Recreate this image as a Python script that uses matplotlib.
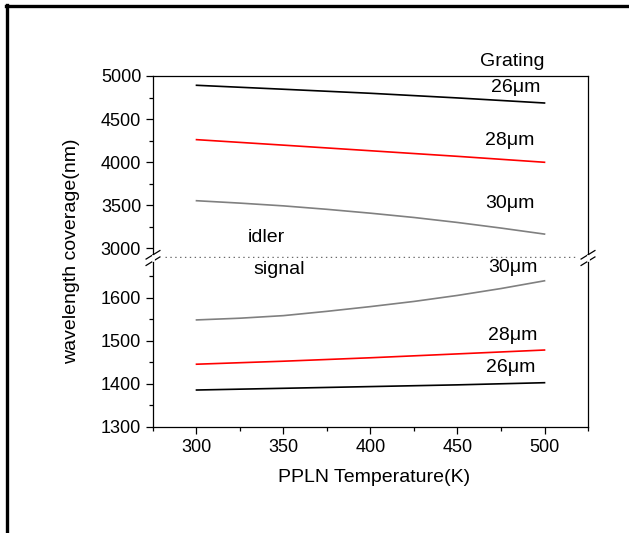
import matplotlib.pyplot as plt
from matplotlib.lines import Line2D
from matplotlib.ticker import MultipleLocator

plt.rcParams['font.family'] = ['Liberation Sans', 'DejaVu Sans']
plt.rcParams['font.size'] = 14

temp = [300, 350, 400, 450, 500]
temp_fine = [300, 325, 350, 375, 400, 425, 450, 475, 500]
# idler branch (upper panel)
idler_26 = [4892, 4846, 4799, 4745, 4686]
idler_28 = [4260, 4196, 4131, 4066, 3997]
idler_30 = [3550, 3522, 3490, 3450, 3405, 3355, 3297, 3232, 3162]
# signal branch (lower panel)
signal_26 = [1386, 1390, 1394, 1398, 1403]
signal_28 = [1446, 1453, 1461, 1470, 1479]
signal_30 = [1549, 1553, 1559, 1569, 1580, 1592, 1606, 1622, 1640]

fig = plt.figure(figsize=(6.29, 5.33), dpi=100)
L, R = 153 / 629, 588 / 629
ybrk = 1 - 258 / 533
ytop = 1 - 76 / 533
ybot = 1 - 427 / 533
ax_up = fig.add_axes([L, ybrk, R - L, ytop - ybrk])
ax_lo = fig.add_axes([L, ybot, R - L, ybrk - ybot])

lw = 1.2
ax_up.plot(temp, idler_26, color='black', lw=lw)
ax_up.plot(temp, idler_28, color='red', lw=lw)
ax_up.plot(temp_fine, idler_30, color='gray', lw=lw)
ax_lo.plot(temp, signal_26, color='black', lw=lw)
ax_lo.plot(temp, signal_28, color='red', lw=lw)
ax_lo.plot(temp_fine, signal_30, color='gray', lw=lw)

ax_up.set_ylim(2884, 5000)
ax_lo.set_ylim(1300, 1693)
for ax in (ax_up, ax_lo):
    ax.set_xlim(275, 525)
    for s in ax.spines.values():
        s.set_linewidth(0.9)
    ax.tick_params(which='major', direction='out', length=5, width=0.9, labelsize=13)
    ax.tick_params(which='minor', direction='out', length=3, width=0.9)
    ax.xaxis.set_major_locator(MultipleLocator(50))
    ax.xaxis.set_minor_locator(MultipleLocator(25))
    ax.tick_params(right=False, top=False, which='both')

ax_up.spines['bottom'].set_visible(False)
ax_lo.spines['top'].set_visible(False)
ax_up.tick_params(axis='x', which='both', bottom=False, labelbottom=False)
ax_up.yaxis.set_major_locator(MultipleLocator(500))
ax_up.yaxis.set_minor_locator(MultipleLocator(250))
ax_up.set_yticks([3000, 3500, 4000, 4500, 5000])
ax_lo.yaxis.set_major_locator(MultipleLocator(100))
ax_lo.yaxis.set_minor_locator(MultipleLocator(50))
ax_lo.set_yticks([1300, 1400, 1500, 1600])

# dotted divider between idler and signal
ax_up.plot([282, 518], [2895, 2895], linestyle=(0, (1, 2.5)), color='dimgray', lw=1)

# break marks on both spines
for xf in (0, 1):
    for dy in (-0.006, 0.006):
        fig.add_artist(Line2D([L + (R - L) * xf - 0.011, L + (R - L) * xf + 0.011],
                              [ybrk + dy - 0.008, ybrk + dy + 0.008],
                              color='black', lw=0.9))
    fig.add_artist(Line2D([L + (R - L) * xf, L + (R - L) * xf],
                          [ybrk - 0.003, ybrk + 0.003], color='white', lw=2))

def pt(x, y):
    return x / 629, 1 - y / 533

fig.text(*pt(512, 61), 'Grating', ha='center', va='center')
fig.text(*pt(516, 88), '26μm', ha='center', va='center')
fig.text(*pt(510, 140), '28μm', ha='center', va='center')
fig.text(*pt(510, 203), '30μm', ha='center', va='center')
fig.text(*pt(513, 268), '30μm', ha='center', va='center')
fig.text(*pt(513, 336), '28μm', ha='center', va='center')
fig.text(*pt(511, 368), '26μm', ha='center', va='center')
fig.text(*pt(266, 238), 'idler', ha='center', va='center')
fig.text(*pt(279, 269), 'signal', ha='center', va='center')

fig.text(*pt(72, 251), 'wavelength coverage(nm)', rotation=90, ha='center', va='center')
fig.text(*pt(374, 478), 'PPLN Temperature(K)', ha='center', va='center')

# partial frame of the cropped original
fig.add_artist(Line2D([6 / 629, 1], [1 - 6 / 533, 1 - 6 / 533], color='black', lw=2.4))
fig.add_artist(Line2D([7 / 629, 7 / 629], [0, 1 - 5 / 533], color='black', lw=2.4))

fig.savefig('out.png', dpi=100)
